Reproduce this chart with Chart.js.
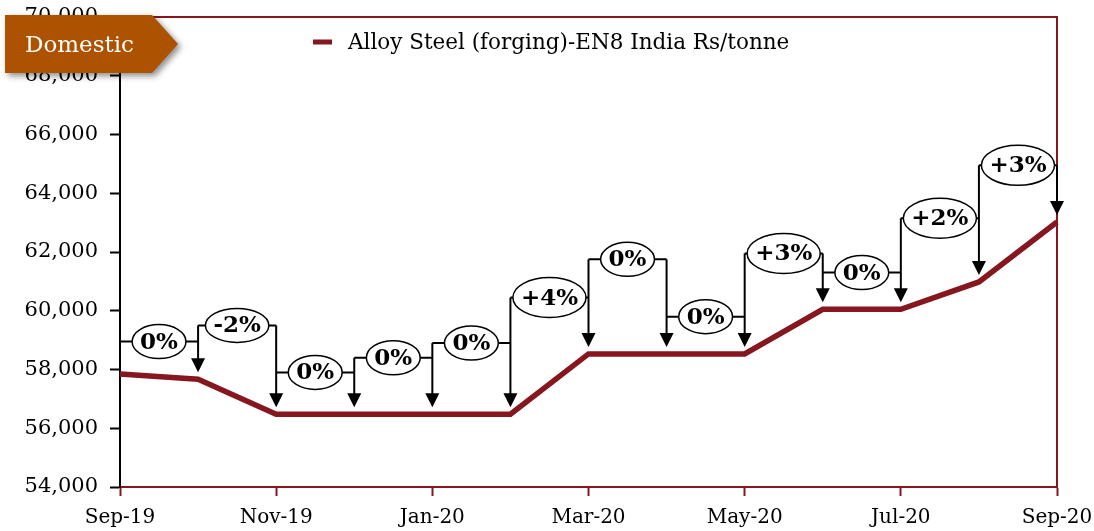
<!DOCTYPE html>
<html>
<head>
<meta charset="utf-8">
<title>Alloy Steel (forging)-EN8 India</title>
<script src="https://cdn.jsdelivr.net/npm/chart.js@4.4.1/dist/chart.umd.min.js"></script>
<style>
  html, body { margin: 0; padding: 0; background: #fff; }
  .wrap { position: relative; width: 1094px; height: 531px; }
  .badge-shadow {
    position: absolute; left: 5px; top: 15px;
    filter: drop-shadow(3px 3px 3px rgba(0, 0, 0, 0.45));
  }
  .badge {
    width: 173px; height: 58px;
    background: #ad5200;
    clip-path: polygon(0 0, 147px 0, 173px 29px, 147px 58px, 0 58px);
    color: #fff;
    font: 23px 'DejaVu Serif', serif;
    line-height: 58px;
    padding-left: 20px;
    box-sizing: border-box;
  }
</style>
</head>
<body>
<div class="wrap">
  <canvas id="steelChart" width="1094" height="531"></canvas>
  <div class="badge-shadow"><div class="badge">Domestic</div></div>
</div>
<script>
const months = ['Sep-19', 'Oct-19', 'Nov-19', 'Dec-19', 'Jan-20', 'Feb-20', 'Mar-20',
                'Apr-20', 'May-20', 'Jun-20', 'Jul-20', 'Aug-20', 'Sep-20'];
const prices = [57850, 57670, 56480, 56480, 56480, 56480, 58530,
                58530, 58530, 60050, 60050, 60980, 63020];
// month-on-month change callouts, one per interval
const changeLabels = ['0%', '-2%', '0%', '0%', '0%', '+4%', '0%', '0%', '+3%', '0%', '+2%', '+3%'];
const bracketLevels = [58950, 59500, 57900, 58400, 58900, 60450, 61750, 59800, 61950, 61300, 63150, 64950];
const seriesName = 'Alloy Steel (forging)-EN8 India Rs/tonne';

const RED = '#87171f';
Chart.defaults.font.family = "'DejaVu Serif', serif";
Chart.defaults.color = '#000';

const framePlugin = {
  id: 'frame',
  beforeDatasetsDraw(chart) {
    const { ctx, chartArea: a } = chart;
    ctx.save();
    ctx.strokeStyle = RED;
    ctx.lineWidth = 2;
    ctx.beginPath();
    ctx.moveTo(a.left, a.top);
    ctx.lineTo(a.right, a.top);
    ctx.lineTo(a.right, a.bottom);
    ctx.stroke();
    ctx.restore();
  }
};

const bracketPlugin = {
  id: 'brackets',
  afterDatasetsDraw(chart) {
    const { ctx, scales: { x, y } } = chart;
    ctx.save();
    ctx.strokeStyle = '#000';
    ctx.fillStyle = '#000';
    ctx.lineWidth = 2;

    // down arrows onto each month
    for (let j = 1; j < months.length; j++) {
      const levels = [bracketLevels[j - 1]];
      if (j < bracketLevels.length) levels.push(bracketLevels[j]);
      const top = y.getPixelForValue(Math.max(...levels));
      const px = x.getPixelForValue(j);
      const tip = y.getPixelForValue(prices[j]) - 7;
      ctx.beginPath();
      ctx.moveTo(px, top);
      ctx.lineTo(px, tip - 12);
      ctx.stroke();
      ctx.beginPath();
      ctx.moveTo(px - 7, tip - 14);
      ctx.lineTo(px + 7, tip - 14);
      ctx.lineTo(px, tip);
      ctx.closePath();
      ctx.fill();
    }

    // horizontal bracket + ellipse label
    ctx.font = "bold 23px 'DejaVu Serif', serif";
    ctx.textAlign = 'center';
    ctx.textBaseline = 'middle';
    changeLabels.forEach((lab, i) => {
      const x0 = x.getPixelForValue(i);
      const x1 = x.getPixelForValue(i + 1);
      const ly = y.getPixelForValue(bracketLevels[i]);
      ctx.lineWidth = 2;
      ctx.beginPath();
      ctx.moveTo(x0, ly);
      ctx.lineTo(x1, ly);
      ctx.stroke();

      const w = ctx.measureText(lab).width;
      const rx = w / 2 + 8;
      const ry = lab.startsWith('+') ? 20 : 17;
      const cx = (x0 + x1) / 2;
      ctx.beginPath();
      ctx.ellipse(cx, ly, rx, ry, 0, 0, Math.PI * 2);
      ctx.fillStyle = '#fff';
      ctx.fill();
      ctx.lineWidth = 1.5;
      ctx.stroke();
      ctx.fillStyle = '#000';
      ctx.fillText(lab, cx, ly + 1);
    });
    ctx.restore();
  }
};

const legendPlugin = {
  id: 'insideLegend',
  afterDraw(chart) {
    const { ctx } = chart;
    ctx.save();
    ctx.strokeStyle = RED;
    ctx.lineWidth = 5;
    ctx.beginPath();
    ctx.moveTo(313, 42);
    ctx.lineTo(332, 42);
    ctx.stroke();
    ctx.fillStyle = '#000';
    ctx.font = "21.5px 'DejaVu Serif', serif";
    ctx.textBaseline = 'middle';
    ctx.fillText(seriesName, 348, 43);
    ctx.restore();
  }
};

new Chart(document.getElementById('steelChart'), {
  type: 'line',
  data: {
    labels: months,
    datasets: [{
      label: seriesName,
      data: prices,
      borderColor: RED,
      borderWidth: 5.5,
      pointRadius: 0,
      tension: 0,
      fill: false
    }]
  },
  options: {
    responsive: false,
    animation: false,
    layout: { padding: { top: 17, right: 37, left: 0, bottom: 0 } },
    plugins: {
      legend: { display: false },
      tooltip: { enabled: false }
    },
    scales: {
      x: {
        afterFit: s => { s.height = 44; s.paddingLeft = 0; s.paddingRight = 0; },
        border: { color: RED, width: 2 },
        grid: {
          drawOnChartArea: false,
          tickLength: 9,
          color: RED,
          tickColor: c => (c.index % 2 ? 'rgba(0,0,0,0)' : RED),
          tickWidth: 2
        },
        ticks: {
          autoSkip: false,
          maxRotation: 0,
          padding: 10,
          font: { size: 20 },
          callback: (v, i) => (i % 2 ? '' : months[i])
        }
      },
      y: {
        min: 54000,
        max: 70000,
        afterFit: s => { s.width = 120; s.paddingTop = 0; s.paddingBottom = 0; },
        border: { color: '#000', width: 2 },
        grid: { drawOnChartArea: false, tickLength: 10, color: '#000', tickWidth: 2 },
        ticks: {
          stepSize: 2000,
          padding: 12,
          font: { size: 21 },
          callback: v => v.toLocaleString('en-US')
        }
      }
    }
  },
  plugins: [framePlugin, bracketPlugin, legendPlugin]
});
</script>
</body>
</html>
